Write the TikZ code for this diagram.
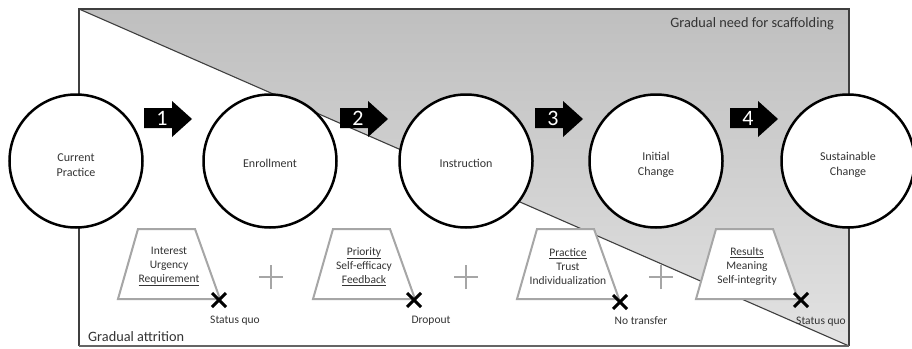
\documentclass[tikz,border=0pt]{standalone}
\usepackage{fontspec}
\setmainfont{Carlito}
\usetikzlibrary{shapes.misc}
\definecolor{txt}{HTML}{333333}
\definecolor{frm}{HTML}{3F3F3F}
\definecolor{trp}{HTML}{A6A6A6}
\definecolor{gtop}{HTML}{BFBFBF}
\definecolor{gbot}{HTML}{E2E2E2}
\tikzset{
  stage/.style={circle, draw=black, line width=2.5pt, fill=white, minimum size=133pt, inner sep=0pt},
  stagetext/.style={align=center, text=txt, font=\fontsize{12}{15}\selectfont, inner sep=0pt},
  trapline/.style={draw=trp, line width=2pt, fill=white, line join=miter},
  traptext/.style={align=center, text=txt, font=\fontsize{11.5}{14}\selectfont, inner sep=0pt},
  numtext/.style={text=white, font=\fontsize{22}{22}\selectfont, inner sep=0pt},
  xmark/.style={cross out, draw=black, line width=3pt, minimum size=11pt, inner sep=0pt},
  outlabel/.style={text=txt, font=\fontsize{11.5}{14}\selectfont, inner sep=0pt},
  biglabel/.style={text=txt, font=\fontsize{14.3}{17}\selectfont, inner sep=0pt},
  plusline/.style={draw=trp, line width=2.4pt},
}
\newcommand{\trapbox}[3]{%
  \draw[trapline] (#1,299) -- (#1+20,229) -- (#1+77,229) -- (#1+102,299) -- cycle;
  \node[traptext] (#2) at (#1+51,266.5) {#3};
}
\newcommand{\blockarrow}[3]{%
  \fill[black] (#1,108) -- (#1+28,108) -- (#1+28,101) -- (#1+48,119) -- (#1+28,137) -- (#1+28,128) -- (#1,128) -- cycle;
  \node[numtext] (#2) at (#1+18,118.5) {#3};
}
\newcommand{\plusmark}[3]{%
  \coordinate (#1) at (#2,#3);
  \draw[plusline] ([xshift=-12pt]#1) -- ([xshift=12pt]#1);
  \draw[plusline] ([yshift=-12pt]#1) -- ([yshift=12pt]#1);
}
\newcommand{\stagenode}[4]{%
  \node[stage] (#1) at (#2,161) {};
  \node[stagetext] (#1t) at (#2,#3) {#4};
}
\begin{document}
\begin{tikzpicture}[x=1pt,y=-1pt]
\useasboundingbox (0,0) rectangle (912,348);
% background frame
\fill[white] (79,9) rectangle (849,346);
\shade[top color=gtop, bottom color=gbot] (79,9) -- (849,9) -- (849,346) -- cycle;
\draw[frm, line width=1.1pt] (79,9) -- (849,346);
\draw[frm, line width=1.1pt] (79,346) -- (79,9) -- (849,9) -- (849,346);
\draw[frm!80, line width=2.2pt] (79,346) -- (849,346);
\node[biglabel, anchor=east] (need) at (834,24) {Gradual need for scaffolding};
\node[biglabel, anchor=west] (attr) at (88,337) {Gradual attrition};
% stages
\stagenode{s1}{76}{165}{Current\\Practice}
\stagenode{s2}{270}{163.5}{Enrollment}
\stagenode{s3}{466}{163.5}{Instruction}
\stagenode{s4}{656}{165}{Initial\\Change}
\stagenode{s5}{848}{165}{Sustainable\\Change}
% arrows
\blockarrow{144}{a1}{1}
\blockarrow{340}{a2}{2}
\blockarrow{535}{a3}{3}
\blockarrow{730}{a4}{4}
% trapezoids
\trapbox{118}{t1}{Interest\\Urgency\\\underline{Requirement}}
\trapbox{313}{t2}{\underline{Priority}\\Self-efficacy\\\underline{Feedback}}
\trapbox{517}{t3}{\underline{Practice}\\Trust\\Individualization}
\trapbox{696}{t4}{\underline{Results}\\Meaning\\Self-integrity}
% plus signs
\plusmark{p1}{271}{277}
\plusmark{p2}{466}{277}
\plusmark{p3}{661}{277}
% crosses
\node[xmark] (x1) at (219,300) {};
\node[xmark] (x2) at (414,300) {};
\node[xmark] (x3) at (620,302) {};
\node[xmark] (x4) at (801,300) {};
% outcome labels
\node[outlabel] (o1) at (235,321) {Status quo};
\node[outlabel] (o2) at (431,321) {Dropout};
\node[outlabel] (o3) at (641,321) {No transfer};
\node[outlabel] (o4) at (821,322) {Status quo};
\end{tikzpicture}
\end{document}
